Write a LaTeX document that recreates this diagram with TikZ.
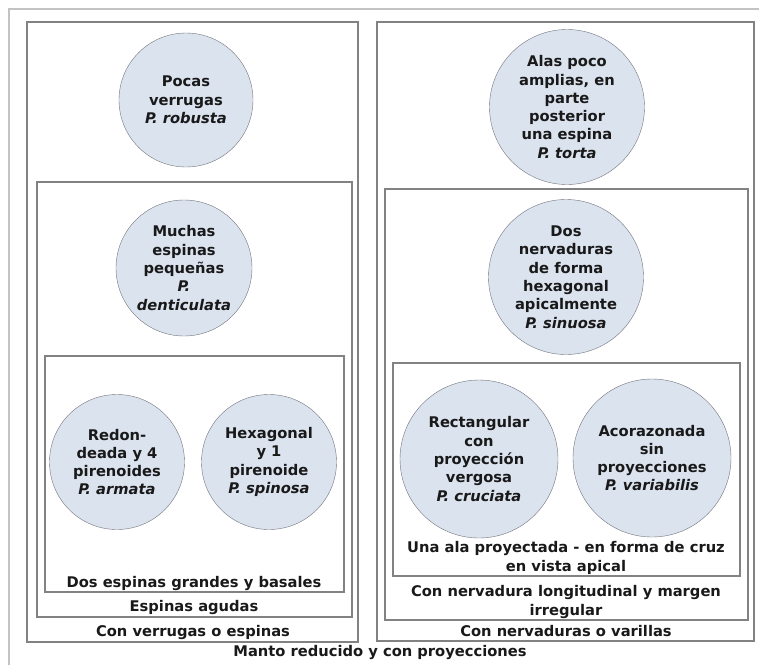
\documentclass[tikz,border=0pt]{standalone}
\usepackage{fontspec}
\setmainfont{DejaVu Sans}
\definecolor{circfill}{RGB}{219,227,239}
\definecolor{circline}{RGB}{115,117,125}
\definecolor{boxline}{RGB}{130,130,130}
\definecolor{outerline}{RGB}{195,195,195}
\definecolor{textcol}{RGB}{25,25,25}

\begin{document}
\begin{tikzpicture}[x=1pt, y=-1pt,
    every node/.style={font=\bfseries\fontsize{14.7}{18.3}\selectfont, text=textcol},
    taxon/.style={circle, draw=circline, fill=circfill, align=center, inner sep=0pt},
    box/.style={draw=boxline, line width=1.1pt},
    boxlabel/.style={align=center, inner sep=0pt}]

    % Page
    \useasboundingbox (0,0) rectangle (759,664);
    \fill[white] (0,0) rectangle (759,664);

    % Outer frame (Manto reducido y con proyecciones)
    \draw[outerline, line width=1.2pt] (9,9) rectangle (775,690);

    % Left column: nested boxes
    \draw[box] (27,22) rectangle (358,642);
    \draw[box] (37,182) rectangle (352,617);
    \draw[box] (45,356) rectangle (344,592);

    % Right column: nested boxes
    \draw[box] (377,22) rectangle (754,641);
    \draw[box] (385,189) rectangle (748,620);
    \draw[box] (393,363) rectangle (740,576);

    % Species on the left
    \node[taxon, minimum size=134pt] (robusta) at (186,100)
        {Pocas\\verrugas\\\textit{P. robusta}};
    \node[taxon, minimum size=136pt] (denticulata) at (184,268)
        {Muchas\\espinas\\pequeñas\\\textit{P.}\\\textit{denticulata}};
    \node[taxon, minimum size=135pt] (armata) at (117,462)
        {Redon-\\deada y 4\\pirenoides\\\textit{P. armata}};
    \node[taxon, minimum size=135pt] (spinosa) at (269,462)
        {Hexagonal\\y 1\\pirenoide\\\textit{P. spinosa}};

    % Species on the right
    \node[taxon, minimum size=155pt] (torta) at (567,107)
        {Alas poco\\amplias, en\\parte\\posterior\\una espina\\\textit{P. torta}};
    \node[taxon, minimum size=155pt] (sinuosa) at (566,277)
        {Dos\\nervaduras\\de forma\\hexagonal\\apicalmente\\\textit{P. sinuosa}};
    \node[taxon, minimum size=158pt] (cruciata) at (479,459)
        {Rectangular\\con\\proyección\\vergosa\\\textit{P. cruciata}};
    \node[taxon, minimum size=158pt] (variabilis) at (652,458)
        {Acorazonada\\sin\\proyecciones\\\textit{P. variabilis}};

    % Box labels
    \node[boxlabel] (basales) at (194,583) {Dos espinas grandes y basales};
    \node[boxlabel] (agudas) at (194,607) {Espinas agudas};
    \node[boxlabel] (verrugas) at (193,632) {Con verrugas o espinas};
    \node[boxlabel] (cruz) at (566,558) {Una ala proyectada - en forma de cruz\\en vista apical};
    \node[boxlabel] (margen) at (566,602) {Con nervadura longitudinal y margen\\irregular};
    \node[boxlabel] (varillas) at (566,631) {Con nervaduras o varillas};
    \node[boxlabel] (manto) at (380,652) {Manto reducido y con proyecciones};
\end{tikzpicture}
\end{document}
